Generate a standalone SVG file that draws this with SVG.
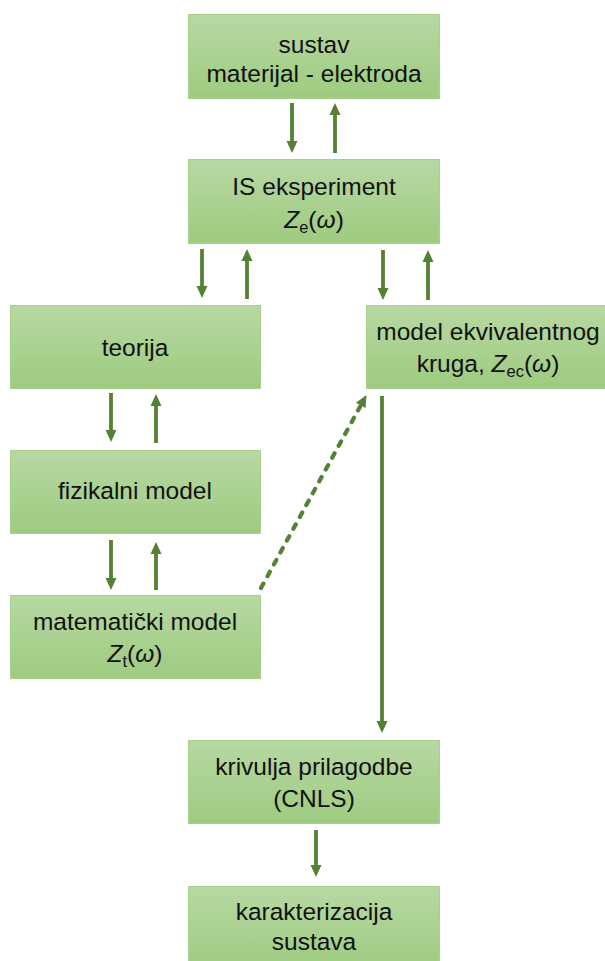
<svg xmlns="http://www.w3.org/2000/svg" width="605" height="961" viewBox="0 0 605 961">
<defs>
<linearGradient id="g" x1="0" y1="0" x2="0" y2="1">
<stop offset="0" stop-color="#b7d8a3"/>
<stop offset="1" stop-color="#9ecb80"/>
</linearGradient>
<marker id="ah" markerUnits="userSpaceOnUse" markerWidth="12" markerHeight="12" viewBox="0 0 12 12" refX="0" refY="6" orient="auto">
<path d="M0,0.5 L12,6 L0,11.5 z" fill="#548235"/>
</marker>
<style>
.box{fill:url(#g);stroke:#a8d18c;stroke-width:1}
.t{font-family:"Liberation Sans",Arial,sans-serif;font-size:24.5px;fill:#111;text-anchor:middle}
.i{font-style:italic}
.c{stroke:#548235;stroke-width:3.8;fill:none;marker-end:url(#ah)}
.d{stroke-width:4.2;stroke-dasharray:5 8.5;stroke-linecap:round}
</style>
</defs>
<rect width="605" height="961" fill="#fff"/>
<g id="n1"><rect class="box" x="188.5" y="14.5" width="251" height="84"/>
<text class="t" x="314" y="53">sustav</text>
<text class="t" x="314" y="82">materijal - elektroda</text></g>
<g id="n2"><rect class="box" x="188.5" y="159.5" width="251" height="84"/>
<text class="t" x="314" y="195">IS eksperiment</text>
<text class="t" x="314" y="228"><tspan class="i">Z</tspan><tspan font-size="16.5" dy="5">e</tspan><tspan dy="-5">(</tspan><tspan class="i">ω</tspan>)</text></g>
<g id="n3"><rect class="box" x="10.5" y="305.5" width="250" height="83"/>
<text class="t" x="135" y="356">teorija</text></g>
<g id="n4"><rect class="box" x="366.5" y="305.5" width="244" height="83"/>
<text class="t" x="488" y="340">model ekvivalentnog</text>
<text class="t" x="488" y="372">kruga, <tspan class="i">Z</tspan><tspan font-size="16.5" dy="5">ec</tspan><tspan dy="-5">(</tspan><tspan class="i">ω</tspan>)</text></g>
<g id="n5"><rect class="box" x="10.5" y="450.5" width="250" height="83"/>
<text class="t" x="135" y="499">fizikalni model</text></g>
<g id="n6"><rect class="box" x="10.5" y="595.5" width="250" height="83"/>
<text class="t" x="135" y="630">matematički model</text>
<text class="t" x="135" y="662"><tspan class="i">Z</tspan><tspan font-size="16.5" dy="5">t</tspan><tspan dy="-5">(</tspan><tspan class="i">ω</tspan>)</text></g>
<g id="n7"><rect class="box" x="188.5" y="740.5" width="251" height="83"/>
<text class="t" x="314" y="775">krivulja prilagodbe</text>
<text class="t" x="314" y="807">(CNLS)</text></g>
<g id="n8"><rect class="box" x="188.5" y="886.5" width="251" height="84"/>
<text class="t" x="314" y="920">karakterizacija</text>
<text class="t" x="314" y="950">sustava</text></g>
<g id="connectors">
<line class="c" x1="292" y1="103" x2="292" y2="141"/>
<line class="c" x1="335" y1="153" x2="335" y2="115"/>
<line class="c" x1="202" y1="249" x2="202" y2="286"/>
<line class="c" x1="247" y1="299" x2="247" y2="261"/>
<line class="c" x1="383" y1="250" x2="383" y2="288"/>
<line class="c" x1="428" y1="300" x2="428" y2="262"/>
<line class="c" x1="111" y1="393" x2="111" y2="430"/>
<line class="c" x1="156" y1="443" x2="156" y2="406"/>
<line class="c" x1="111" y1="540" x2="111" y2="578"/>
<line class="c" x1="156" y1="590" x2="156" y2="554"/>
<line class="c d" x1="261" y1="588" x2="360.7" y2="405.5"/>
<line class="c" x1="382" y1="396" x2="382" y2="721"/>
<line class="c" x1="316" y1="830" x2="316" y2="865"/>
</g>
</svg>
